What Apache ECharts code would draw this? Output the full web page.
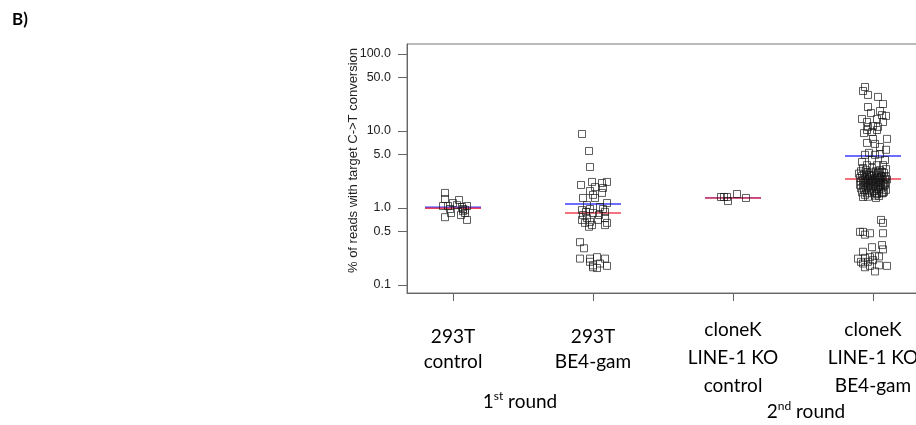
<!DOCTYPE html>
<html>
<head>
<meta charset="utf-8">
<script src="https://cdn.jsdelivr.net/npm/echarts@6/dist/echarts.min.js"></script>
<style>html,body{margin:0;padding:0;background:#fff;}#c{width:916px;height:425px;}</style>
</head>
<body>
<div id="c"></div>
<script>
// ---- data ----
var categories = ['293T\ncontrol', '293T\nBE4-gam', 'cloneK\nLINE-1 KO\ncontrol', 'cloneK\nLINE-1 KO\nBE4-gam'];
var yTickValues = [0.1, 0.5, 1, 5, 10, 50, 100];
var medians = [0.99, 0.86, 1.35, 2.38];
var means = [1.02, 1.13, 1.36, 4.73];
// points: [horizontal jitter (px), % value]
var g1 = [[-8,1.57],[-8,1.31],[-10,1.06],[-5,1.06],[0,1.16],[6,1.27],[-8,0.76],[-2,0.86],[9,1.03],[10,0.97],[14,1.06],[8,0.81],[12,0.86],[14,0.70],[4,1.09],[10,0.91],[12,0.95],[-3,0.97]];
var g2 = [[-11,9.15],[-4,5.5],[-3,3.41],[-12,1.99],[-1,2.18],[9,2.11],[14,2.18],[2,1.87],[10,1.82],[-3,1.66],[9,1.57],[0,1.48],[-10,1.35],[2,1.35],[14,1.16],[-6,1.09],[7,1.03],[-11,0.94],[-3,0.97],[10,0.97],[12,0.89],[-10,0.81],[0,0.86],[-6,0.74],[-11,0.70],[-3,0.66],[5,0.70],[12,0.74],[12,0.60],[-1,0.60],[-8,0.64],[-4,0.57],[14,0.64],[6,0.81],[-7,0.89],[-13,0.36],[-9,0.30],[-13,0.22],[-3,0.20],[4,0.23],[12,0.22],[0,0.18],[4,0.166],[14,0.177],[0,0.17],[7,0.19],[-3,0.22]];
var g3 = [[-12,1.39],[-9,1.39],[-6,1.39],[-5,1.23],[4,1.52],[13,1.35]];
var g4 = [[-8,37.3],[-10,33.1],[-5,29.4],[5,27.7],[10,22.4],[-5,20.5],[-2,17.1],[7,18.2],[9,16.1],[13,15.7],[-11,14.3],[-6,13.1],[4,14.3],[10,13.1],[-5,11.3],[0,11.6],[5,11.3],[-9,9.4],[-1,9.7],[4,10.3],[-6,10.3],[0,7.9],[14,7.9],[-6,7.0],[2,6.8],[7,6.2],[13,5.7],[-4,5.2],[-8,4.9],[2,4.9],[7,5.0],[-1,4.2],[-11,3.96],[12,4.2],[-6,3.6],[4,3.6],[10,3.6],[-10,3.3],[-1,3.3],[7,3.1],
[-12,3.0],[-7,3.1],[-2,2.9],[3,3.0],[9,2.95],[13,3.2],[-14,2.8],[-9,2.75],[-4,2.7],[1,2.8],[6,2.7],[11,2.85],[-11,2.6],[-6,2.55],[-1,2.6],[4,2.5],[8,2.6],[13,2.55],[-13,2.45],[-8,2.4],[-3,2.45],[2,2.4],[7,2.42],[12,2.4],[-10,2.3],[-5,2.35],[0,2.3],[5,2.32],[10,2.28],[14,2.35],[-12,2.2],[-7,2.22],[-2,2.2],[3,2.18],[8,2.2],[13,2.15],[-9,2.1],[-4,2.1],[1,2.08],[6,2.1],[11,2.05],[-13,2.0],[-8,1.98],[-3,2.0],[2,1.96],[7,1.98],[12,2.0],[-10,1.9],[-5,1.88],[0,1.9],[5,1.85],[10,1.9],[-12,1.8],[-7,1.78],[-2,1.8],[3,1.75],[8,1.8],[13,1.72],[-9,1.7],[-4,1.68],[1,1.65],[6,1.7],[11,1.62],[-11,1.6],[-6,1.55],[-1,1.58],[4,1.52],[9,1.55],[-8,1.48],[2,1.45],[6,1.43],[-5,1.4],[-10,1.39],[3,1.35],[10,1.57],[-3,2.65],[-6,2.9],[5,2.85],[9,2.5],[-1,2.25],
[4,1.57],[8,0.70],[10,0.64],[-13,0.49],[-10,0.49],[-8,0.45],[-3,0.47],[10,0.47],[-10,0.27],[-1,0.31],[9,0.33],[10,0.29],[-15,0.22],[-8,0.225],[-3,0.23],[2,0.24],[6,0.235],[-10,0.19],[-5,0.20],[0,0.21],[-8,0.17],[6,0.18],[14,0.177],[2,0.15],[-3,0.177],[-12,0.2]];
var groups = [g1, g2, g3, g4];

// ---- build ----
var JITTER = 1 / 140; // px of jitter -> category units
var lg = function (v) { return Math.log10(v); };
var scatterData = [];
groups.forEach(function (g, i) {
  g.forEach(function (p) { scatterData.push([i + 1 + p[0] * JITTER, lg(p[1])]); });
});
var meanData = means.map(function (v, i) { return [i + 1, lg(v)]; });
var medianData = medians.map(function (v, i) { return [i + 1, lg(v)]; });

function seg(color) {
  return function (params, api) {
    var p = api.coord([api.value(0), api.value(1)]);
    return { type: 'line', shape: { x1: p[0] - 28, y1: p[1], x2: p[0] + 28, y2: p[1] },
      style: { stroke: color, lineWidth: 1.5 } };
  };
}

var chart = echarts.init(document.getElementById('c'));
chart.setOption({
  animation: false,
  backgroundColor: '#fff',
  grid: { left: 407, top: 44, width: 560, height: 249, show: true, borderColor: '#777', borderWidth: 1, backgroundColor: 'transparent', containLabel: false, outerBoundsMode: 'none' },
  xAxis: {
    type: 'value', min: 0.6714, max: 4.6714,
    splitLine: { show: false },
    axisLine: { show: true, onZero: false, lineStyle: { color: '#666', width: 1 } },
    axisTick: { show: true, length: 8, customValues: [1, 2, 3, 4], lineStyle: { color: '#666' } },
    axisLabel: {
      customValues: [1, 2, 3, 4], margin: 23, color: '#000',
      fontFamily: 'Lato', fontSize: 19, hideOverlap: false,
      formatter: function (v) {
        var lines = categories[Math.round(v) - 1].split('\n');
        if (lines.length === 2) return '{a1|' + lines[0] + '}\n{a2|' + lines[1] + '}';
        return lines.map(function (l) { return '{b|' + l + '}'; }).join('\n');
      },
      rich: {
        a1: { fontFamily: 'Lato', fontSize: 19, lineHeight: 42, color: '#000' },
        a2: { fontFamily: 'Lato', fontSize: 19, lineHeight: 8, color: '#000' },
        b: { fontFamily: 'Lato', fontSize: 19, lineHeight: 28, color: '#000' }
      }
    }
  },
  yAxis: {
    type: 'value', min: -1.104, max: 2.13,
    splitLine: { show: false },
    axisLine: { show: true, lineStyle: { color: '#666', width: 1 } },
    axisTick: { show: true, length: 9, customValues: yTickValues.map(lg), lineStyle: { color: '#666' } },
    axisLabel: {
      customValues: yTickValues.map(lg), margin: 16, color: '#222',
      fontFamily: 'Liberation Sans', fontSize: 12.5,
      formatter: function (v) { return Math.pow(10, v).toFixed(1); }
    },
    name: '% of reads with target C->T conversion',
    nameLocation: 'middle', nameGap: 47, nameMoveOverlap: false,
    nameTextStyle: { fontFamily: 'Liberation Sans', fontSize: 13, color: '#222', padding: [0, 0, 0, 16] }
  },
  series: [
    { type: 'custom', renderItem: seg('#3b3bff'), data: meanData, z: 3 },
    { type: 'custom', renderItem: seg('#ee4455'), data: medianData, z: 4 },
    { type: 'scatter', data: scatterData, symbol: 'rect', symbolSize: 7, z: 5,
      itemStyle: { color: 'rgba(0,0,0,0)', borderColor: 'rgba(20,20,20,0.85)', borderWidth: 1 } }
  ],
  graphic: [
    { type: 'text', left: 12, top: 11, style: { text: 'B)', fontFamily: 'Lato', fontWeight: 'bold', fontSize: 17, fill: '#000' } },
    { type: 'text', x: 520, y: 402, style: {
      text: '{n|1}{s|st}{n| round}', align: 'center', verticalAlign: 'middle',
      rich: { n: { fontFamily: 'Lato', fontSize: 19, lineHeight: 24, fill: '#000' },
              s: { fontFamily: 'Lato', fontSize: 12, lineHeight: 12, verticalAlign: 'top', fill: '#000' } } } },
    { type: 'text', x: 806, y: 412, style: {
      text: '{n|2}{s|nd}{n| round}', align: 'center', verticalAlign: 'middle',
      rich: { n: { fontFamily: 'Lato', fontSize: 19, lineHeight: 24, fill: '#000' },
              s: { fontFamily: 'Lato', fontSize: 12, lineHeight: 12, verticalAlign: 'top', fill: '#000' } } } }
  ]
});
</script>
</body>
</html>
